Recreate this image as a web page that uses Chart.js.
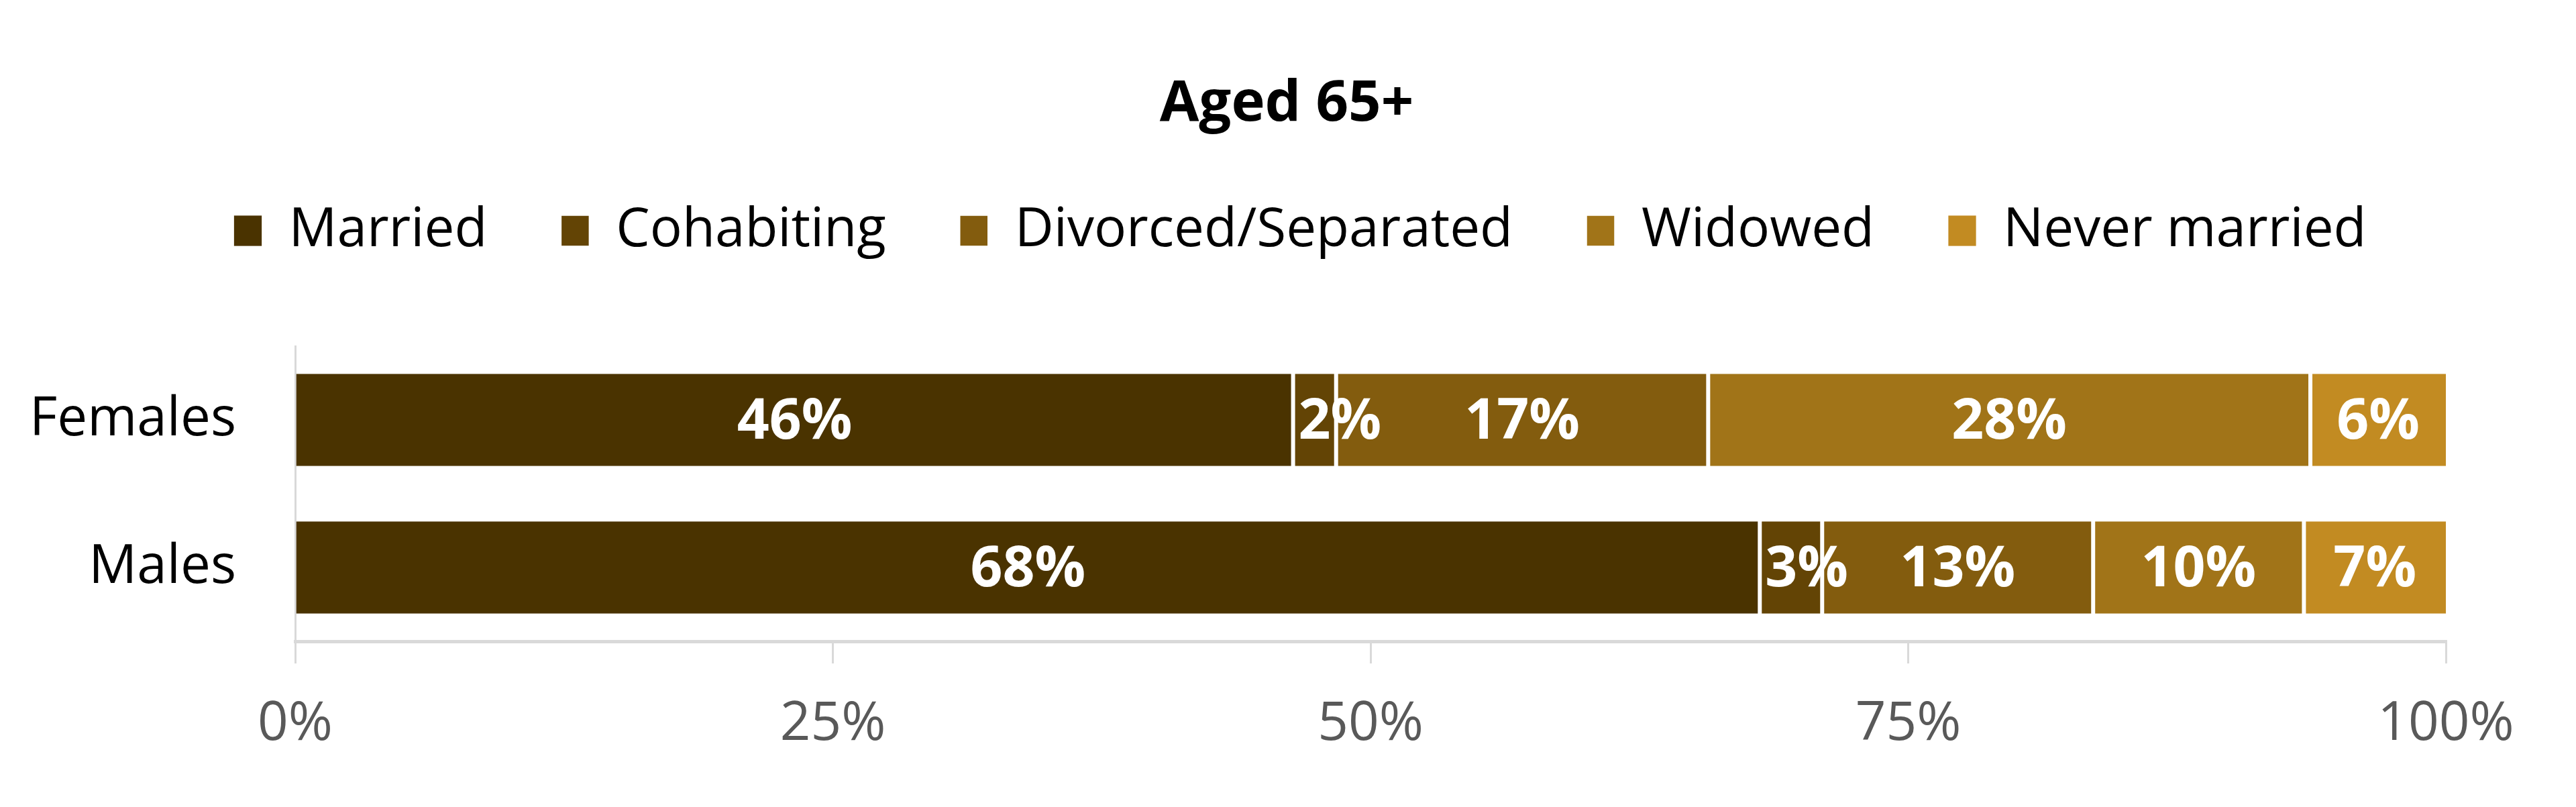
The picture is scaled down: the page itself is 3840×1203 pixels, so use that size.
<!DOCTYPE html>
<html>
<head>
<meta charset="utf-8">
<title>Aged 65+</title>
<script src="https://cdn.jsdelivr.net/npm/chart.js@4.4.1/dist/chart.umd.min.js"></script>
<style>
  html, body { margin: 0; padding: 0; background: #ffffff; }
  #wrap { width: 3840px; height: 1203px; }
</style>
</head>
<body>
<div id="wrap"><canvas id="myChart"></canvas></div>
<script>
// data (percent of each group)
var categories = ['Females', 'Males'];
var married = [46.4, 68.1];
var cohabiting = [2.0, 2.9];
var divorced = [17.3, 12.6];
var widowed = [28.0, 9.8];
var neverMarried = [6.3, 6.6];

var seriesNames = ['Married', 'Cohabiting', 'Divorced/Separated', 'Widowed', 'Never married'];
var seriesColors = ['#4a3300', '#634405', '#835c0e', '#a17418', '#c28b22'];
var xTicks = [0, 25, 50, 75, 100];

var FONT = '"Open Sans", "Noto Sans", sans-serif';

function makeSet(i, values) {
  var last = i === 4;
  return {
    label: seriesNames[i],
    data: values,
    backgroundColor: seriesColors[i],
    borderColor: '#ffffff',
    borderWidth: { left: i === 0 ? 0 : 3, right: last ? 0 : 3, top: 0, bottom: 0 },
    borderSkipped: false,
    categoryPercentage: 0.8,
    barPercentage: 0.78
  };
}

// white percent labels in the middle of each segment
var segLabels = {
  id: 'segLabels',
  afterDatasetsDraw: function (chart) {
    var ctx = chart.ctx;
    ctx.save();
    ctx.font = 'bold 84px ' + FONT;
    ctx.fillStyle = '#ffffff';
    ctx.textAlign = 'center';
    ctx.textBaseline = 'middle';
    chart.data.datasets.forEach(function (ds, di) {
      chart.getDatasetMeta(di).data.forEach(function (bar, j) {
        var txt = Math.round(ds.data[j]) + '%';
        var w = ctx.measureText(txt).width;
        var left = bar.base;
        var x = Math.max((bar.x + bar.base) / 2, left + 8 + w / 2);
        ctx.fillText(txt, x, bar.y + 4);
      });
    });
    ctx.restore();
  }
};

// extra room under the legend, and centre title/legend like the original
var legendGap = {
  id: 'legendGap',
  beforeInit: function (chart) {
    var fit = chart.legend.fit;
    chart.legend.fit = function () {
      fit.bind(chart.legend)();
      this.height += 122;
    };
  },
  afterLayout: function (chart) {
    chart.legend.left = 230;
    chart.titleBlock.left = 190;
  }
};

var ctx = document.getElementById('myChart').getContext('2d');
var myChart = new Chart(ctx, {
  type: 'bar',
  data: {
    labels: categories,
    datasets: [
      makeSet(0, married),
      makeSet(1, cohabiting),
      makeSet(2, divorced),
      makeSet(3, widowed),
      makeSet(4, neverMarried)
    ]
  },
  options: {
    indexAxis: 'y',
    responsive: true,
    maintainAspectRatio: false,
    devicePixelRatio: 1,
    animation: false,
    layout: { padding: { left: 0, right: 194, top: 0, bottom: 32 } },
    plugins: {
      title: {
        display: true,
        text: 'Aged 65+',
        color: '#000000',
        font: { family: FONT, size: 85, weight: 'bold', lineHeight: 1 },
        padding: { top: 113, bottom: -4 }
      },
      legend: {
        display: true,
        position: 'top',
        labels: {
          color: '#000000',
          font: { family: FONT, size: 80 },
          boxWidth: 42,
          boxHeight: 46,
          padding: 110
        }
      },
      tooltip: { enabled: false }
    },
    scales: {
      x: {
        stacked: true,
        min: 0,
        max: 100,
        afterBuildTicks: function (scale) {
          scale.ticks = xTicks.map(function (v) { return { value: v }; });
        },
        ticks: {
          color: '#595959',
          font: { family: FONT, size: 80 },
          padding: 43,
          callback: function (v) { return v + '%'; }
        },
        grid: {
          drawOnChartArea: false,
          drawTicks: true,
          tickLength: 33,
          color: '#d9d9d9',
          lineWidth: 3
        },
        border: { display: true, color: '#d9d9d9', width: 5 }
      },
      y: {
        stacked: true,
        afterFit: function (scale) { scale.width = 440; },
        ticks: {
          color: '#000000',
          font: { family: FONT, size: 80 },
          padding: 80
        },
        grid: { display: false },
        border: { display: true, color: '#d9d9d9', width: 3 }
      }
    }
  },
  plugins: [segLabels, legendGap]
});
</script>
</body>
</html>
